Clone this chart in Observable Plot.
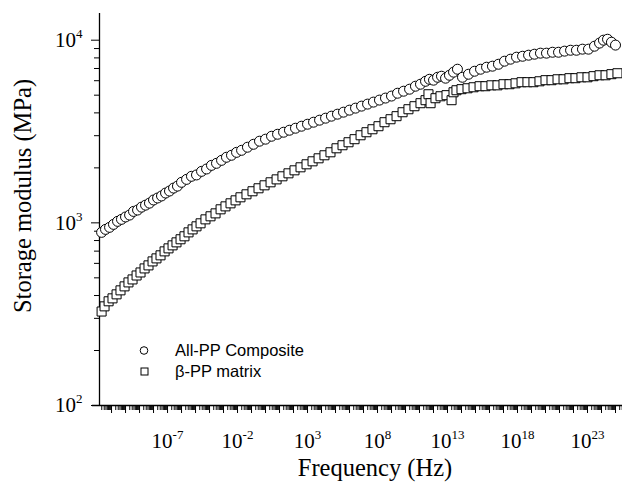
<!DOCTYPE html>
<html><head><meta charset="utf-8">
<script src="https://cdn.jsdelivr.net/npm/d3@7"></script>
<script src="https://cdn.jsdelivr.net/npm/@observablehq/plot@0.6"></script>
<style>body{margin:0;background:#fff}</style>
</head><body><div id="chart"></div>
<script>
// Frequency exponents (log10 Hz) and storage modulus (MPa)
const compExp = [-11.71,-11.43,-11.14,-10.86,-10.57,-10.29,-10.0,-9.71,-9.43,-9.14,
-8.86,-8.57,-8.29,-8.0,-7.71,-7.43,-7.14,-6.86,-6.57,-6.29,
-6.0,-5.64,-5.29,-4.93,-4.57,-4.21,-3.86,-3.5,-3.14,-2.79,
-2.43,-2.07,-1.71,-1.29,-0.86,-0.43,0,0.43,0.86,1.29,
1.71,2.14,2.57,3.0,3.43,3.86,4.29,4.71,5.14,5.57,
6.0,6.43,6.86,7.29,7.71,8.14,8.57,9.0,9.43,9.86,
10.29,10.71,11.07,11.43,11.71,12.0,12.29,12.57,12.86,13.14,
13.43,13.71,14.07,14.5,14.93,15.36,15.79,16.21,16.64,17.07,
17.5,17.93,18.36,18.79,19.21,19.64,20.07,20.5,20.93,21.36,
21.79,22.21,22.64,23.07,23.5,23.86,24.14,24.43,24.71,25.0];
const compMod = [887,921,945,981,1019,1045,1077,1103,1155,1175,
1219,1250,1282,1334,1368,1403,1456,1493,1550,1589,
1667,1730,1798,1829,1914,1972,2064,2118,2199,2286,
2344,2432,2495,2594,2692,2799,2871,2979,3055,3134,
3214,3296,3381,3467,3556,3648,3741,3837,3935,4036,
4140,4246,4355,4467,4582,4699,4820,4944,5124,5256,
5391,5598,5741,5957,6109,6040,6266,6350,6194,6427,
6683,6935,6266,6510,6761,6935,7113,7206,7383,7674,
7871,8072,8166,8276,8380,8492,8492,8590,8590,8710,
8810,8810,8930,8930,9270,9640,10000,10120,9750,9400];

const matExp = [-11.71,-11.5,-11.21,-10.93,-10.64,-10.36,-10.07,-9.79,-9.5,-9.21,
-8.93,-8.64,-8.36,-8.07,-7.79,-7.5,-7.21,-6.93,-6.64,-6.36,
-6.07,-5.79,-5.5,-5.21,-4.93,-4.64,-4.29,-3.93,-3.57,-3.21,
-2.86,-2.5,-2.14,-1.79,-1.36,-0.93,-0.5,-0.07,0.36,0.79,
1.21,1.64,2.07,2.5,2.93,3.36,3.79,4.21,4.64,5.07,
5.5,5.93,6.36,6.79,7.21,7.64,8.07,8.5,8.93,9.36,
9.79,10.21,10.64,11.07,11.43,11.64,11.79,12.14,12.5,12.93,
13.29,13.43,13.64,14.0,14.43,14.86,15.29,15.71,16.14,16.57,
17.0,17.43,17.86,18.29,18.71,19.14,19.57,20.0,20.43,20.86,
21.29,21.71,22.14,22.57,23.0,23.43,23.86,24.29,24.71,25.14];
const matMod = [327,349,372,386,406,427,449,472,490,515,
535,563,585,615,639,664,698,725,753,782,
813,844,887,921,957,994,1045,1086,1127,1186,
1231,1279,1328,1380,1433,1489,1546,1605,1667,1730,
1798,1867,1939,2014,2092,2172,2256,2344,2434,2560,
2660,2762,2871,3017,3134,3254,3381,3556,3692,3837,
4032,4188,4350,4519,4694,5058,4519,4812,4932,5000,
4694,5187,5321,5393,5455,5525,5598,5598,5662,5662,
5741,5741,5808,5888,5888,5888,5957,6040,6040,6109,
6109,6194,6194,6266,6266,6353,6427,6427,6516,6592];

const seriesNames = ["All-PP Composite", "β-PP matrix"];
const xLabelExps = [-7, -2, 3, 8, 13, 18, 23];
const yLabelExps = [2, 3, 4];
const xTitle = "Frequency (Hz)";
const yTitle = "Storage modulus (MPa)";

const xDomain = [10 ** -11.86, 10 ** 25.5];
const yDomain = [100, 14000];

const comp = compExp.map((e, i) => ({f: 10 ** e, E: compMod[i]}));
const mat = matExp.map((e, i) => ({f: 10 ** e, E: matMod[i]}));

const xMajor = d3.range(-11, 26).map(e => 10 ** e);
const xMinor = [];
for (let e = -12; e <= 25; e++) for (let k = 2; k <= 9; k++) {
  const v = k * 10 ** e;
  if (v >= xDomain[0] && v <= xDomain[1]) xMinor.push(v);
}
const yMajor = yLabelExps.map(e => 10 ** e);
const yMinor = [];
for (let e = 2; e <= 4; e++) for (let k = 2; k <= 9; k++) {
  const v = k * 10 ** e;
  if (v >= yDomain[0] && v <= yDomain[1]) yMinor.push(v);
}
const expOf = d => Math.round(Math.log10(d));

const chart = Plot.plot({
  width: 622, height: 484,
  marginLeft: 99, marginRight: 0, marginTop: 13, marginBottom: 79,
  x: {type: "log", domain: xDomain},
  y: {type: "log", domain: yDomain},
  style: {fontFamily: "Liberation Serif", fontSize: "21px", color: "black", background: "white"},
  marks: [
    Plot.axisX(xMinor, {tickSize: 5, tickFormat: () => "", label: null}),
    Plot.axisX(xMajor, {tickSize: 8, tickPadding: 20, label: null,
      tickFormat: d => xLabelExps.includes(expOf(d)) ? "10^" + expOf(d) : ""}),
    Plot.axisY(yMinor, {tickSize: 5, tickFormat: () => "", label: null}),
    Plot.axisY(yMajor, {tickSize: 8, tickPadding: 9, label: null,
      tickFormat: d => "10^" + expOf(d)}),
    Plot.ruleY([yDomain[0]], {strokeWidth: 1.6, insetLeft: -7}),
    Plot.ruleX([xDomain[0]], {strokeWidth: 1.3}),
    Plot.dot(mat, {x: "f", y: "E", symbol: "square", r: 5.1, stroke: "black", fill: "white", strokeWidth: 1}),
    Plot.dot(comp, {x: "f", y: "E", symbol: "circle", r: 5, stroke: "black", fill: "white", strokeWidth: 1})
  ]
});
document.getElementById("chart").appendChild(chart);

// superscript exponents in tick labels
d3.select(chart).selectAll("text").each(function() {
  const s = this.textContent;
  if (!s.includes("^")) return;
  const [b, e] = s.split("^");
  const host = this.querySelector("tspan") || this;
  host.textContent = b;
  d3.select(this).append("tspan").attr("dy", -9).attr("font-size", 13).text(e);
});

const svg = d3.select(chart);
svg.append("text").attr("x", 375).attr("y", 476).attr("text-anchor", "middle")
  .attr("font-family", "Liberation Serif").attr("font-size", 24.5).attr("fill", "black").text(xTitle);
svg.append("text").attr("transform", "translate(31,196) rotate(-90)").attr("text-anchor", "middle")
  .attr("font-family", "Liberation Serif").attr("font-size", 24.5).attr("fill", "black").text(yTitle);

// legend
const lg = svg.append("g").attr("font-family", "Liberation Sans").attr("font-size", 16.5)
  .attr("fill", "black").attr("text-anchor", "start");
lg.append("circle").attr("cx", 144).attr("cy", 350.5).attr("r", 3.8).attr("fill", "white").attr("stroke", "black");
lg.append("rect").attr("x", 141).attr("y", 368).attr("width", 7).attr("height", 7).attr("fill", "white").attr("stroke", "black");
lg.append("text").attr("x", 175).attr("y", 356).attr("text-anchor", "start").text(seriesNames[0]);
lg.append("text").attr("x", 175).attr("y", 376.5).attr("text-anchor", "start").text(seriesNames[1]);
</script>
</body></html>
